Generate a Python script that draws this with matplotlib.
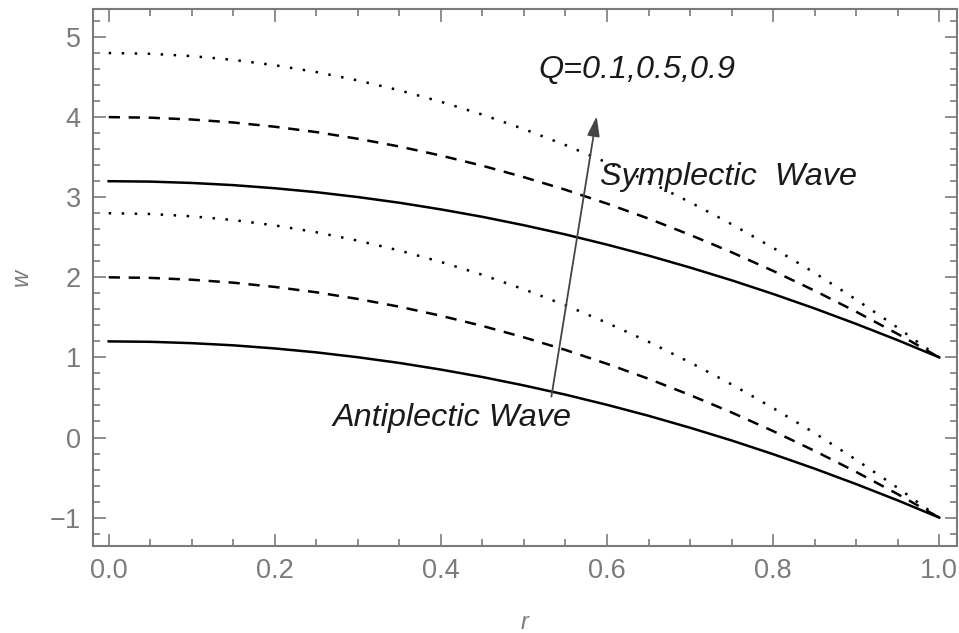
import matplotlib.pyplot as plt
from matplotlib.ticker import MultipleLocator

# values
r = [0.00, 0.05, 0.10, 0.15, 0.20, 0.25, 0.30, 0.35, 0.40, 0.45, 0.50,
     0.55, 0.60, 0.65, 0.70, 0.75, 0.80, 0.85, 0.90, 0.95, 1.00]

# symplectic wave, Q = 0.1, 0.5, 0.9
sym_q1 = [3.200, 3.195, 3.178, 3.151, 3.112, 3.063, 3.002, 2.931, 2.848, 2.755, 2.650,
          2.535, 2.408, 2.271, 2.122, 1.963, 1.792, 1.611, 1.418, 1.215, 1.000]
sym_q5 = [4.000, 3.993, 3.970, 3.933, 3.880, 3.813, 3.730, 3.633, 3.520, 3.393, 3.250,
          3.093, 2.920, 2.733, 2.530, 2.313, 2.080, 1.833, 1.570, 1.293, 1.000]
sym_q9 = [4.800, 4.791, 4.762, 4.715, 4.648, 4.563, 4.458, 4.335, 4.192, 4.031, 3.850,
          3.651, 3.432, 3.195, 2.938, 2.663, 2.368, 2.055, 1.722, 1.371, 1.000]

# antiplectic wave, Q = 0.1, 0.5, 0.9
anti_q1 = [1.200, 1.195, 1.178, 1.151, 1.112, 1.063, 1.002, 0.931, 0.848, 0.755, 0.650,
           0.535, 0.408, 0.271, 0.122, -0.037, -0.208, -0.389, -0.582, -0.785, -1.000]
anti_q5 = [2.000, 1.993, 1.970, 1.933, 1.880, 1.813, 1.730, 1.633, 1.520, 1.393, 1.250,
           1.093, 0.920, 0.733, 0.530, 0.313, 0.080, -0.167, -0.430, -0.707, -1.000]
anti_q9 = [2.800, 2.791, 2.762, 2.715, 2.648, 2.563, 2.458, 2.335, 2.192, 2.031, 1.850,
           1.651, 1.432, 1.195, 0.938, 0.663, 0.368, 0.055, -0.278, -0.629, -1.000]

gray = '#7a7a7a'
plt.rcParams['font.family'] = ['Liberation Sans', 'DejaVu Sans']

fig = plt.figure(figsize=(9.59, 6.33), dpi=100)
ax = fig.add_axes([0.0973, 0.138, 0.9003, 0.8478])

solid = '-'
dashed = (0, (4.5, 3.5))
dotted = (0, (1, 4.2))

for ys, ls in [(sym_q1, solid), (sym_q5, dashed), (sym_q9, dotted),
               (anti_q1, solid), (anti_q5, dashed), (anti_q9, dotted)]:
    ax.plot(r, ys, color='black', linestyle=ls, lw=1.8)

ax.set_xlim(-0.0185, 1.021)
ax.set_ylim(-1.35, 5.35)

ax.xaxis.set_major_locator(MultipleLocator(0.2))
ax.xaxis.set_minor_locator(MultipleLocator(0.05))
ax.yaxis.set_major_locator(MultipleLocator(1))
ax.yaxis.set_minor_locator(MultipleLocator(0.2))
ax.xaxis.set_major_formatter(plt.FuncFormatter(lambda v, p: f'{v:.1f}'))
ax.yaxis.set_major_formatter(plt.FuncFormatter(lambda v, p: f'{v:.0f}'.replace('-', '\u2212')))

ax.tick_params(which='both', direction='in', top=True, right=True,
               color=gray, labelcolor=gray, labelsize=19.5, width=1.2)
ax.tick_params(which='major', length=9, pad=9)
ax.tick_params(which='minor', length=5)
for s in ax.spines.values():
    s.set_color(gray)
    s.set_linewidth(1.5)

ax.set_xlabel('r', style='italic', color=gray, fontsize=17, labelpad=19)
ax.set_ylabel('w', style='italic', color=gray, fontsize=17, labelpad=12)

ax.annotate('', xy=(0.5875, 4.01), xytext=(0.533, 0.51),
            arrowprops=dict(arrowstyle='-|>,head_length=1.2,head_width=0.38',
                            color='#444444', lw=1.3, shrinkA=0, shrinkB=0))

ax.text(0.517, 4.59, 'Q=0.1,0.5,0.9', style='italic', fontsize=23.3, color='#1a1a1a',
        ha='left', va='center')
ax.text(0.591, 3.25, 'Symplectic  Wave', style='italic', fontsize=23.3, color='#1a1a1a',
        ha='left', va='center')
ax.text(0.270, 0.246, 'Antiplectic Wave', style='italic', fontsize=23.3, color='#1a1a1a',
        ha='left', va='center')

fig.savefig('out.png', dpi=100)
